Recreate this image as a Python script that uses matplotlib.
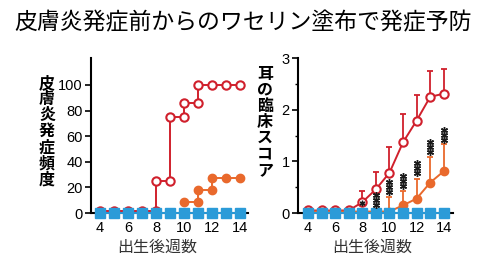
import numpy as np
import matplotlib
matplotlib.use("Agg")
import matplotlib.pyplot as plt
import matplotlib.transforms as mtrans
from matplotlib.ticker import MultipleLocator

plt.rcParams['font.family'] = ['Liberation Sans', 'Noto Sans CJK JP', 'DejaVu Sans']
JP = ['Noto Sans CJK JP', 'DejaVu Sans']

RED = '#d0202c'
ORANGE = '#e9692c'
BLUE = '#2b9bd8'

title = '皮膚炎発症前からのワセリン塗布で発症予防'
xlabel = '出生後週数'
ylabel_left = '皮膚炎発症頻度'
ylabel_right = '耳の臨床スコア'

weeks = [4, 5, 6, 7, 8, 9, 10, 11, 12, 13, 14]

# left panel: incidence (%), step curves
red_inc_x = [4, 5, 6, 7, 8, 8, 9, 9, 10, 10, 11, 11, 12, 13, 14]
red_inc_y = [1.5, 1.5, 1.5, 1.5, 1.5, 25, 25, 75, 75, 86, 86, 100, 100, 100, 100]
orange_inc_x = [10, 11, 11, 12, 12, 13, 14]
orange_inc_y = [9, 9, 18, 18, 27, 27, 27]
blue_inc = [0] * 11

# right panel: ear clinical score, mean and upper error
red_score = [0.05, 0.05, 0.05, 0.05, 0.21, 0.46, 0.78, 1.37, 1.79, 2.25, 2.31]
red_err_top = [None, None, None, None, 0.42, 0.79, 1.28, 1.91, 2.28, 2.75, 2.79]
orange_score = [0.03, 0.03, 0.03, 0.03, 0.03, 0.03, 0.03, 0.15, 0.28, 0.59, 0.81]
orange_err_top = [None, None, None, None, None, None, 0.32, 0.43, 0.66, 1.08, 1.33]
blue_score = [0] * 11

star_weeks = [9, 10, 11, 12, 13, 14]
star_y = [0.25, 0.5, 0.63, 0.88, 1.28, 1.52]

fig = plt.figure(figsize=(4.9, 2.65), dpi=100)
fig.text(0.497, 0.915, title, ha='center', va='center', fontsize=16.5, family=JP)

axL = fig.add_axes([0.186, 0.196, 0.32, 0.585])
axR = fig.add_axes([0.608, 0.196, 0.316, 0.585])

def style(ax):
    for s in ['top', 'right']:
        ax.spines[s].set_visible(False)
    for s in ['left', 'bottom']:
        ax.spines[s].set_linewidth(1.5)
    ax.tick_params(which='major', length=4, width=1.2, labelsize=10.5, pad=2)
    ax.tick_params(which='minor', length=2.5, width=1.0)
    ax.set_xticks([4, 6, 8, 10, 12, 14])

# ---- left
style(axL)
axL.plot(red_inc_x, red_inc_y, '-o', color=RED, mfc='white', mec=RED, ms=6,
         mew=1.5, lw=1.4, clip_on=False, zorder=3)
axL.plot(orange_inc_x, orange_inc_y, '-o', color=ORANGE, ms=6, lw=1.4,
         clip_on=False, zorder=3)
axL.plot(weeks, blue_inc, '-s', color=BLUE, ms=6.5, lw=1.4, clip_on=False, zorder=4)
axL.set_xlim(3.36, 14.57)
axL.set_ylim(0, 121)
axL.set_yticks([0, 20, 40, 60, 80, 100])
fig.text(0.096, 0.505, '\n'.join(ylabel_left), ha='center', va='center',
         fontsize=11.5, linespacing=1.0, family=JP, fontweight='bold')
fig.text(0.32, 0.068, xlabel, ha='center', va='center', fontsize=11.5,
         color='#333333', family=JP)

# ---- right
style(axR)
for i, w in enumerate(weeks):
    if red_err_top[i] is not None:
        axR.errorbar(w, red_score[i], yerr=[[0], [red_err_top[i] - red_score[i]]],
                     color=RED, capsize=2.5, elinewidth=1.3, capthick=1.3, zorder=2)
    if orange_err_top[i] is not None:
        axR.errorbar(w, orange_score[i], yerr=[[0], [orange_err_top[i] - orange_score[i]]],
                     color=ORANGE, capsize=2.5, elinewidth=1.3, capthick=1.3, zorder=2)
axR.plot(weeks, red_score, '-o', color=RED, mfc='white', mec=RED, ms=6,
         mew=1.5, lw=1.4, clip_on=False, zorder=3)
axR.plot(weeks, orange_score, '-o', color=ORANGE, ms=6, lw=1.4,
         clip_on=False, zorder=3)
axR.plot(weeks, blue_score, '-s', color=BLUE, ms=6.5, lw=1.4, clip_on=False, zorder=4)

# significance marks: three stacked asterisks
for dy in (-5, 0, 5):
    off = mtrans.offset_copy(axR.transData, fig=fig, y=dy, units='dots')
    axR.plot(star_weeks, star_y, ls='none', marker=(6, 2, 0), ms=5, mew=1.0,
             color='#1a1a1a', transform=off, zorder=5)
axR.plot([8], [0.2], ls='none', marker=(6, 2, 0), ms=4, mew=1.0,
         color='#1a1a1a', zorder=5)
axR.set_xlim(3.26, 14.66)
axR.set_ylim(0, 3)
axR.set_yticks([0, 1, 2, 3])
axR.yaxis.set_minor_locator(MultipleLocator(0.5))
fig.text(0.541, 0.54, '\n'.join(ylabel_right), ha='center', va='center',
         fontsize=11.5, linespacing=1.0, family=JP, fontweight='bold')
fig.text(0.76, 0.068, xlabel, ha='center', va='center', fontsize=11.5,
         color='#333333', family=JP)

fig.savefig('out.png', dpi=100)
